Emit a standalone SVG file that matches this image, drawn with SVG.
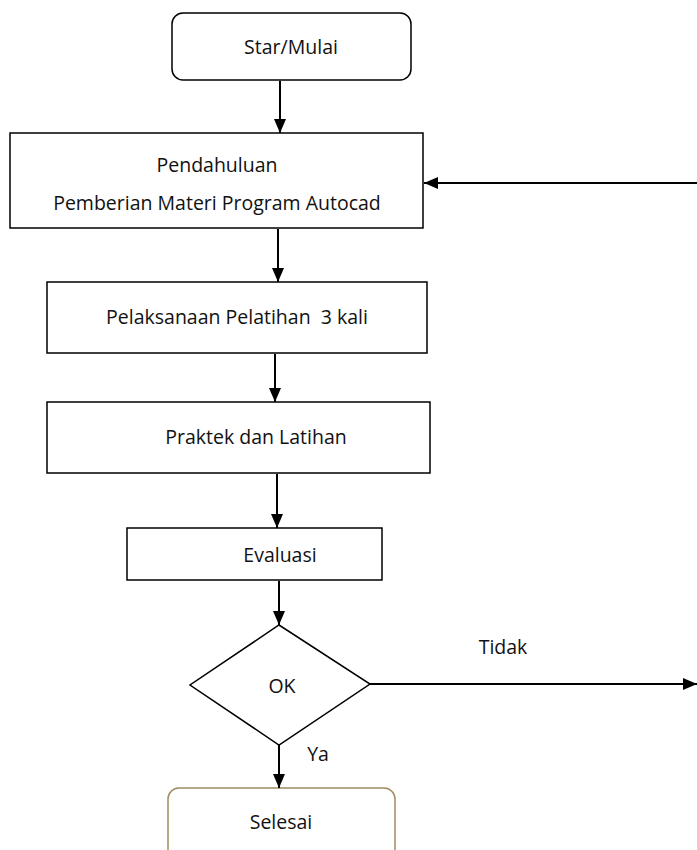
<svg xmlns="http://www.w3.org/2000/svg" width="697" height="850" viewBox="0 0 697 850">
<defs>
<marker id="ah" viewBox="0 0 14 12" refX="14" refY="6" markerWidth="14" markerHeight="12" markerUnits="userSpaceOnUse" orient="auto">
<path d="M0,0 L14,6 L0,12 z" fill="#000"/>
</marker>
<style>
.box{fill:#fff;stroke:#000;stroke-width:1.5}
.t{font-family:"Open Sans","Noto Sans",sans-serif;font-size:19.5px;fill:#111;text-anchor:middle}
.c{stroke:#000;stroke-width:2;fill:none;marker-end:url(#ah)}
</style>
</defs>
<rect width="697" height="850" fill="#fff"/>
<g id="start"><rect class="box" x="172" y="13" width="239" height="67" rx="11"/><text class="t" x="291" y="54">Star/Mulai</text></g>
<g id="pendahuluan"><rect class="box" x="10" y="133" width="413" height="95"/><text class="t" x="217" y="172">Pendahuluan</text><text class="t" x="217" y="210">Pemberian Materi Program Autocad</text></g>
<g id="pelaksanaan"><rect class="box" x="47" y="282" width="380" height="71"/><text class="t" x="237" y="324" xml:space="preserve">Pelaksanaan Pelatihan  3 kali</text></g>
<g id="praktek"><rect class="box" x="47" y="402" width="383" height="71"/><text class="t" x="256" y="444">Praktek dan Latihan</text></g>
<g id="evaluasi"><rect class="box" x="127" y="528" width="255" height="52"/><text class="t" x="280" y="562">Evaluasi</text></g>
<g id="ok"><polygon class="box" points="279,625 370,684 279,745 190,685"/><text class="t" x="282" y="693">OK</text></g>
<g id="selesai"><rect x="168" y="788" width="227" height="80" rx="11" fill="#fff" stroke="#a08c60" stroke-width="1.5"/><text class="t" x="281" y="829">Selesai</text></g>
<g id="connectors">
<line class="c" x1="280" y1="81" x2="280" y2="133"/>
<line class="c" x1="697" y1="183" x2="424" y2="183"/>
<line class="c" x1="278" y1="229" x2="278" y2="282"/>
<line class="c" x1="275" y1="354" x2="275" y2="402"/>
<line class="c" x1="277" y1="474" x2="277" y2="528"/>
<line class="c" x1="279" y1="581" x2="279" y2="625"/>
<line class="c" x1="370" y1="684" x2="697" y2="684"/>
<line class="c" x1="279" y1="745" x2="279" y2="788"/>
<text class="t" x="503" y="654">Tidak</text>
<text class="t" x="318" y="761">Ya</text>
</g>
</svg>
